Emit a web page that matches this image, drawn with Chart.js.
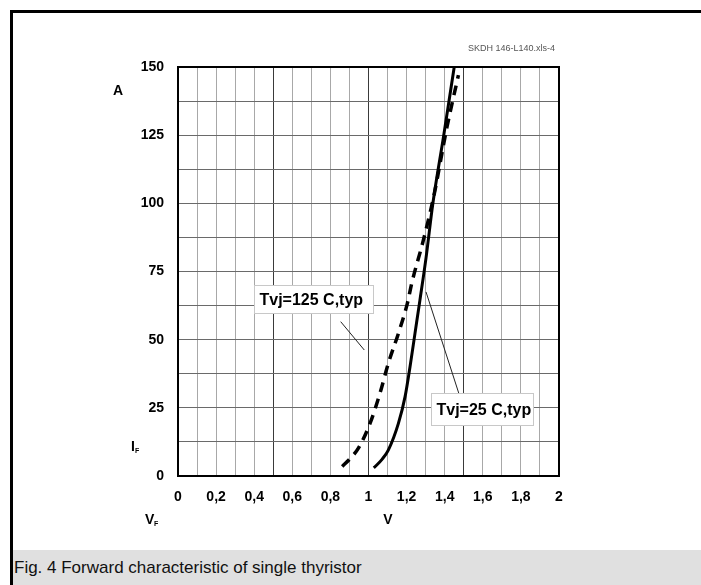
<!DOCTYPE html>
<html>
<head>
<meta charset="utf-8">
<script src="https://cdn.jsdelivr.net/npm/chart.js@4"></script>
<style>
  html, body { margin: 0; padding: 0; background: #fff; }
  #wrap { position: relative; width: 701px; height: 585px; overflow: hidden; background: #fff; }
  #topBorder { position: absolute; left: 10px; top: 10px; width: 691px; height: 3px; background: #000; }
  #leftBorder { position: absolute; left: 10px; top: 10px; width: 3px; height: 575px; background: #000; }
  #caption { position: absolute; left: 13px; top: 550px; width: 688px; height: 35px; background: #e0e0e0;
             font-family: "Liberation Sans", Arial, sans-serif; font-size: 17px; color: #111; }
  #caption span { position: absolute; left: 1px; top: 8px; white-space: nowrap; }
  canvas { position: absolute; left: 0; top: 0; }
</style>
</head>
<body>
<div id="wrap">
  <div id="caption"><span>Fig. 4 Forward characteristic of single thyristor</span></div>
  <div id="topBorder"></div>
  <div id="leftBorder"></div>
  <canvas id="c" width="701" height="585"></canvas>
</div>
<script>
// ---- data ----
const vf25  = [1.028, 1.034, 1.070, 1.104, 1.157, 1.192, 1.218, 1.244, 1.270, 1.302, 1.338, 1.395, 1.450];
const if25  = [3.0,   3.4,   6.0,   9.5,   19.3,  29.1,  40.1,  52.3,  64.5,  80.0,  100.0, 125.0, 150.0];
const vf125 = [0.862, 0.905, 0.947, 1.008, 1.060, 1.104, 1.157, 1.204, 1.227, 1.288, 1.342, 1.412, 1.472];
const if125 = [3.5,   6.5,   10.2,  19.3,  30.3,  41.3,  52.3,  63.3,  70.7,  86.5,  102.4, 128.0, 147.0];

const xTickLabels = ['0','0,2','0,4','0,6','0,8','1','1,2','1,4','1,6','1,8','2'];
const yTickLabels = ['0','25','50','75','100','125','150'];

const seriesNames = ['Tvj=125 C,typ', 'Tvj=25 C,typ'];
// annotation boxes [vMin, vMax, iMin, iMax] and leader lines [v1, i1, v2, i2] in data units
const box125 = [0.399, 1.024, 59.8, 70.0];
const lead125 = [0.854, 56.6, 0.978, 46.2];
const box25 = [1.328, 1.864, 18.7, 30.4];
const lead25 = [1.477, 29.7, 1.302, 67.5];

const FONT = '"Liberation Sans", Arial, sans-serif';

function pts(xs, ys) { return xs.map((x, i) => ({ x: x, y: ys[i] })); }

const extras = {
  id: 'extras',
  beforeDatasetsDraw(chart) {
    const { ctx, chartArea: a } = chart;
    ctx.save();
    ctx.strokeStyle = '#000';
    ctx.lineWidth = 2;
    ctx.strokeRect(a.left, a.top, a.right - a.left, a.bottom - a.top);
    ctx.restore();
  },
  afterDraw(chart) {
    const { ctx, chartArea: a, scales } = chart;
    const X = v => scales.x.getPixelForValue(v);
    const Y = v => scales.y.getPixelForValue(v);
    ctx.save();
    // leader lines
    ctx.strokeStyle = '#222';
    ctx.lineWidth = 1;
    [lead125, lead25].forEach(l => {
      ctx.beginPath();
      ctx.moveTo(X(l[0]), Y(l[1]));
      ctx.lineTo(X(l[2]), Y(l[3]));
      ctx.stroke();
    });
    // label boxes
    [[box125, seriesNames[0]], [box25, seriesNames[1]]].forEach(([b, t]) => {
      const x0 = Math.round(X(b[0])) + 0.5, x1 = Math.round(X(b[1])) + 0.5;
      const y0 = Math.round(Y(b[3])) + 0.5, y1 = Math.round(Y(b[2])) + 0.5;
      ctx.fillStyle = '#fff';
      ctx.fillRect(x0, y0, x1 - x0, y1 - y0);
      ctx.strokeStyle = '#c8c8c8';
      ctx.strokeRect(x0, y0, x1 - x0, y1 - y0);
      ctx.fillStyle = '#000';
      ctx.font = 'bold 16px ' + FONT;
      ctx.textBaseline = 'middle';
      ctx.textAlign = 'left';
      ctx.fillText(t, x0 + 5, (y0 + y1) / 2 + 1);
    });
    // axis titles
    ctx.fillStyle = '#000';
    ctx.textBaseline = 'middle';
    ctx.font = 'bold 14px ' + FONT;
    ctx.textAlign = 'center';
    ctx.fillText('A', a.left - 60, a.top + 24);
    ctx.fillText('V', 388, a.bottom + 44);
    ctx.textAlign = 'left';
    ctx.fillText('I', a.left - 47, a.bottom - 29);
    ctx.fillText('V', a.left - 33, a.bottom + 44);
    ctx.font = 'bold 7px ' + FONT;
    ctx.fillText('F', a.left - 43, a.bottom - 25);
    ctx.fillText('F', a.left - 24, a.bottom + 48);
    // file tag
    ctx.font = '9px ' + FONT;
    ctx.fillStyle = '#555';
    ctx.textAlign = 'right';
    ctx.fillText('SKDH 146-L140.xls-4', a.right - 4, a.top - 18);
    ctx.restore();
  }
};

new Chart(document.getElementById('c'), {
  type: 'scatter',
  data: {
    datasets: [
      { label: seriesNames[0], data: pts(vf125, if125), showLine: true, borderColor: '#000',
        borderWidth: 3.5, borderDash: [10, 7], pointRadius: 0, cubicInterpolationMode: 'monotone', tension: 0.4 },
      { label: seriesNames[1], data: pts(vf25, if25), showLine: true, borderColor: '#000',
        borderWidth: 3, pointRadius: 0, cubicInterpolationMode: 'monotone', tension: 0.4 }
    ]
  },
  options: {
    responsive: false,
    devicePixelRatio: 1,
    animation: false,
    layout: { padding: { top: 67, right: 142, left: 0, bottom: 0 } },
    plugins: { legend: { display: false }, tooltip: { enabled: false } },
    scales: {
      x: {
        type: 'linear', min: 0, max: 2,
        afterFit: s => { s.height = 109; },
        afterBuildTicks: s => { s.ticks = Array.from({ length: 21 }, (_, i) => ({ value: i / 10 })); },
        ticks: {
          autoSkip: false, maxRotation: 0, padding: 13, color: '#000',
          font: { family: FONT, size: 14, weight: 'bold' },
          callback: (v, i) => (i % 2 === 0 ? xTickLabels[i / 2] : '')
        },
        grid: {
          drawTicks: false, lineWidth: 1,
          color: c => (c.index % 5 === 0 ? '#3a3a3a' : '#a8a8a8')
        },
        border: { display: true, color: '#000', width: 2 }
      },
      y: {
        type: 'linear', min: 0, max: 150,
        afterFit: s => { s.width = 178; },
        afterBuildTicks: s => { s.ticks = Array.from({ length: 13 }, (_, i) => ({ value: i * 12.5 })); },
        ticks: {
          autoSkip: false, padding: 14, color: '#000',
          font: { family: FONT, size: 14, weight: 'bold' },
          callback: (v, i) => (i % 2 === 0 ? yTickLabels[i / 2] : '')
        },
        grid: { drawTicks: false, lineWidth: 1, color: '#6a6a6a' },
        border: { display: true, color: '#000', width: 2 }
      }
    }
  },
  plugins: [extras]
});
</script>
</body>
</html>
